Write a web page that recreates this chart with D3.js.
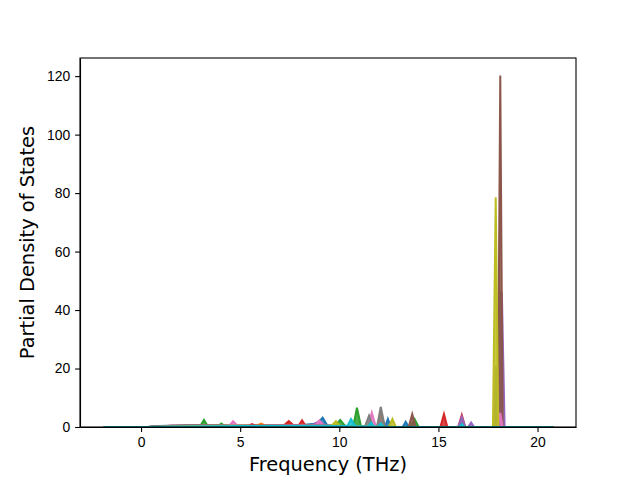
<!DOCTYPE html>
<html>
<head>
<meta charset="utf-8">
<script src="https://cdn.jsdelivr.net/npm/d3@7"></script>
<style>
  body { margin: 0; background: #fff; }
  svg { font-family: "DejaVu Sans", sans-serif; }
  .axis text { font-size: 13.9px; fill: #000; }
  .axis path, .axis line { stroke: #000; stroke-width: 1.1; }
  .title { font-size: 19.4px; fill: #000; }
</style>
</head>
<body>
<div id="chart"></div>
<script>
// frequency (THz), partial DOS value -- one list per projected site
const blueSeries   = [[-1.9,0],[0.4,0],[0.8,0.3],[2,0.4],[3.5,0.5],[5,0.4],[6.5,0.5],[8,0.6],[8.9,1.2],[9.16,3.2],[9.4,0.5],[10,0.3],[11,0],[12.3,0],[12.45,2.8],[12.6,0],[13.2,0],[13.35,1.8],[13.5,0],[20.8,0]]
const orangeSeries = [[-1.9,0],[0.5,0],[1.5,0.3],[3,0.4],[5.8,0.4],[6.06,1.2],[6.3,0.4],[7.3,0.5],[7.5,1.5],[7.7,0.5],[9,0.4],[10,0.2],[11.9,0],[12.09,4.4],[12.3,0],[20.8,0]]
const greenSeries  = [[-1.9,0],[0.5,0],[2,0.3],[3,0.5],[3.17,2.4],[3.35,0.5],[3.9,0.4],[4.05,1.2],[4.2,0.4],[6,0.3],[8,0.4],[9.8,0.5],[10.05,2.4],[10.3,0.3],[10.7,0],[10.89,6.6],[11.1,0],[13.6,0],[13.8,2.7],[14,0],[17.95,0],[18.05,1.5],[18.12,46.5],[18.2,1.5],[18.3,0],[20.8,0]]
const redSeries    = [[-1.9,0],[0.6,0],[1.5,0.4],[2.8,0.6],[3.5,0.5],[5.4,0.4],[5.6,1.0],[5.8,0.4],[7.2,0.5],[7.45,2.0],[7.7,0.5],[7.95,0.5],[8.12,2.3],[8.3,0.4],[9.5,0.3],[10.5,0],[15.1,0],[15.28,4.4],[15.45,0],[16.0,0],[16.18,4.1],[16.35,0],[17.8,0],[17.95,10],[18.05,0],[20.8,0]]
const purpleSeries = [[-1.9,0],[0.7,0],[2,0.3],[4,0.4],[6,0.3],[8.6,0.6],[9.0,2.0],[9.3,0.5],[10,0.2],[10.5,0],[16.0,0],[16.18,3.5],[16.35,0],[16.5,0],[16.65,1.5],[16.8,0],[18.02,0],[18.2,46],[18.34,0],[20.8,0]]
const brownSeries  = [[-1.9,0],[0.6,0],[2,0.4],[2.5,0.6],[4,0.3],[6,0.4],[8,0.3],[9,0.4],[10,0.2],[10.5,0],[13.5,0],[13.68,4.4],[13.85,0],[18.0,0],[18.12,120.2],[18.24,0],[20.8,0]]
const pinkSeries   = [[-1.9,0],[0.8,0],[1.6,0.5],[3,0.4],[4.45,0.5],[4.64,2.0],[4.85,0.5],[6,0.3],[8.8,0.6],[9.0,2.3],[9.2,0.5],[10,0.2],[11.45,0],[11.64,4.9],[11.85,0],[11.95,0],[12.05,2.0],[12.2,0],[18.0,0],[18.12,4.8],[18.24,0],[20.8,0]]
const graySeries   = [[-1.9,0],[0.35,0],[0.5,0.3],[2,0.5],[4,0.5],[6,0.4],[8,0.5],[9,0.6],[10,0.4],[11,0.3],[11.3,0.3],[11.5,3.9],[11.7,0],[11.9,0],[12.09,6.9],[12.3,0],[17.78,0],[17.9,20.8],[18.02,0],[20.8,0]]
const oliveSeries  = [[-1.9,0],[0.8,0],[3,0.3],[5,0.4],[7,0.3],[9.6,0.4],[9.83,2.0],[10.05,0.3],[12.5,0],[12.68,2.7],[12.85,0],[17.75,0],[17.89,78.6],[18.02,0],[20.8,0]]
const cyanSeries   = [[-1.9,0],[0.5,0],[2,0.2],[5,0.3],[8,0.3],[10.4,0.3],[10.59,2.7],[10.8,0.3],[11.45,0.2],[11.6,1.5],[11.75,0.2],[11.95,0.2],[12.1,1.2],[12.25,0],[16.05,0],[16.18,1.0],[16.3,0],[20.8,0]]

const seriesList = [blueSeries, orangeSeries, greenSeries, redSeries, purpleSeries,
                    brownSeries, pinkSeries, graySeries, oliveSeries, cyanSeries]
const colors = ['#1f77b4','#ff7f0e','#2ca02c','#d62728','#9467bd',
                '#8c564b','#e377c2','#7f7f7f','#bcbd22','#17becf']
const xTicks = [0, 5, 10, 15, 20]
const yTicks = [0, 20, 40, 60, 80, 100, 120]

const W = 640, H = 480
const margin = {left: 80, right: 64, top: 58, bottom: 53}
const width = W - margin.left - margin.right
const height = H - margin.top - margin.bottom

const svg = d3.select('#chart').append('svg')
  .attr('width', W).attr('height', H)

const chart = svg.append('g')
  .attr('transform', `translate(${margin.left},${margin.top})`)

const xScale = d3.scaleLinear().domain([-3.08, 21.94]).range([0, width])
const yScale = d3.scaleLinear().domain([0, 126.2]).range([height, 0])

svg.append('clipPath').attr('id', 'clip')
  .append('rect').attr('width', width).attr('height', height)

const area = d3.area()
  .x((d) => xScale(d[0]))
  .y0(yScale(0))
  .y1((d) => yScale(d[1]))

const line = d3.line()
  .x((d) => xScale(d[0]))
  .y((d) => yScale(d[1]))

const plot = chart.append('g').attr('clip-path', 'url(#clip)')
seriesList.forEach(function(s, i){
  plot.append('path')
    .datum(s)
    .attr('d', area)
    .attr('fill', colors[i])
    .attr('fill-opacity', 0.85)
  plot.append('path')
    .datum(s)
    .attr('d', line)
    .attr('fill', 'none')
    .attr('stroke', colors[i])
    .attr('stroke-width', 2)
})

chart.append('g')
  .attr('class', 'axis')
  .attr('transform', `translate(0,${height})`)
  .call(d3.axisBottom(xScale).tickValues(xTicks).tickSize(4.9).tickPadding(4.9).tickSizeOuter(0))

chart.append('g')
  .attr('class', 'axis')
  .call(d3.axisLeft(yScale).tickValues(yTicks).tickSize(4.9).tickPadding(4.9).tickSizeOuter(0))

// frame
chart.append('rect')
  .attr('width', width).attr('height', height)
  .attr('fill', 'none').attr('stroke', '#000').attr('stroke-width', 1.1)

//x Axis Title
svg.append('text')
  .attr('class', 'title')
  .attr('x', margin.left + width / 2)
  .attr('y', 471)
  .attr('text-anchor', 'middle')
  .text('Frequency (THz)')

//y Axis Title
svg.append('text')
  .attr('class', 'title')
  .attr('transform', `translate(34,${margin.top + height / 2}) rotate(-90)`)
  .attr('text-anchor', 'middle')
  .text('Partial Density of States')
</script>
</body>
</html>
